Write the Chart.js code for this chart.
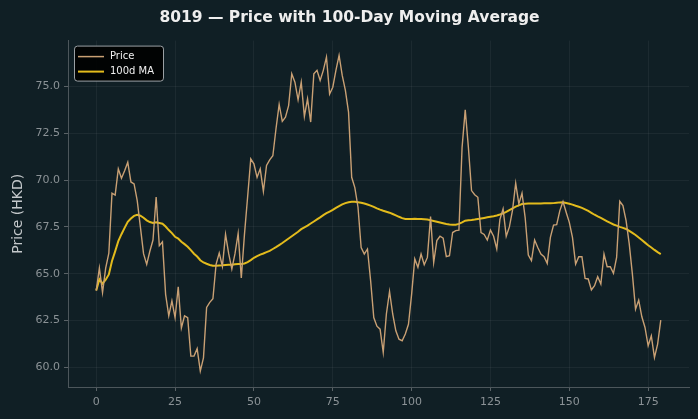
<!DOCTYPE html>
<html>
<head>
<meta charset="utf-8">
<script src="https://cdn.jsdelivr.net/npm/chart.js@4.4.1/dist/chart.umd.min.js"></script>
<style>
  html, body { margin: 0; padding: 0; background: #101f25; }
  #wrap { width: 698px; height: 419px; }
</style>
</head>
<body>
<div id="wrap"><canvas id="c" width="698" height="419"></canvas></div>
<script>
// --- data ---
const days = Array.from({ length: 180 }, (_, i) => i);

const price = [
  64.1, 65.3, 64.0, 65.3, 66.1, 69.3, 69.2, 70.6, 70.1, 70.5,
  70.95, 69.9, 69.8, 68.9, 67.5, 66.07, 65.5, 66.2, 66.8, 69.1,
  66.5, 66.7, 63.9, 62.75, 63.55, 62.65, 64.3, 62.1, 62.75, 62.65,
  60.6, 60.6, 61.0, 59.8, 60.5, 63.2, 63.47, 63.66, 65.5, 66.1,
  65.4, 67.1, 66.07, 65.25, 66.07, 67.15, 64.77, 67.1, 69.1, 71.13,
  70.87, 70.15, 70.6, 69.4, 70.78, 71.08, 71.3, 72.74, 74.04, 73.14,
  73.36, 73.98, 75.68, 75.23, 74.29, 75.23, 73.4, 74.34, 73.1, 75.68,
  75.86, 75.32, 75.86, 76.57, 74.6, 74.96, 75.86, 76.66, 75.59, 74.79,
  73.63, 70.15, 69.6, 68.55, 66.4, 66.05, 66.32, 64.63, 62.66, 62.2,
  62.04, 60.8, 62.85, 64.05, 62.85, 61.95, 61.5, 61.42, 61.78, 62.3,
  63.9, 65.79, 65.34, 66.05, 65.48, 65.87, 68.05, 65.6, 66.77, 67.0,
  66.9, 65.91, 65.96, 67.2, 67.3, 67.33, 71.75, 73.75, 71.75, 69.44,
  69.22, 69.08, 67.2, 67.1, 66.8, 67.33, 67.0, 66.32, 67.9, 68.46,
  67.0, 67.5, 68.4, 69.83, 68.73, 69.3, 68.0, 66.0, 65.7, 66.8,
  66.4, 66.05, 65.91, 65.55, 66.94, 67.6, 67.62, 68.37, 68.85, 68.28,
  67.74, 66.94, 65.52, 65.91, 65.91, 64.75, 64.72, 64.13, 64.36, 64.84,
  64.45, 66.05, 65.37, 65.37, 65.02, 65.87, 68.87, 68.64, 67.83, 66.59,
  64.98, 63.11, 63.59, 62.7, 62.13, 61.15, 61.68, 60.52, 61.24, 62.52
];

const ma100 = [
  64.10, 64.70, 64.47, 64.68, 64.96, 65.68, 66.19, 66.74, 67.11, 67.45,
  67.77, 67.95, 68.09, 68.15, 68.10, 67.99, 67.85, 67.76, 67.71, 67.75,
  67.71, 67.67, 67.52, 67.33, 67.17, 66.97, 66.88, 66.71, 66.58, 66.44,
  66.26, 66.07, 65.92, 65.72, 65.60, 65.53, 65.47, 65.43, 65.43, 65.44,
  65.45, 65.47, 65.48, 65.48, 65.50, 65.52, 65.52, 65.55, 65.62, 65.73,
  65.85, 65.94, 66.02, 66.08, 66.15, 66.22, 66.32, 66.42, 66.53, 66.64,
  66.76, 66.88, 67.00, 67.12, 67.24, 67.38, 67.48, 67.57, 67.68, 67.79,
  67.90, 68.01, 68.13, 68.23, 68.32, 68.41, 68.52, 68.61, 68.70, 68.77,
  68.82, 68.84, 68.84, 68.82, 68.79, 68.75, 68.70, 68.64, 68.57, 68.49,
  68.42, 68.36, 68.31, 68.26, 68.19, 68.12, 68.04, 67.97, 67.92, 67.92,
  67.92, 67.93, 67.92, 67.92, 67.91, 67.90, 67.86, 67.82, 67.78, 67.74,
  67.70, 67.66, 67.63, 67.62, 67.62, 67.66, 67.74, 67.83, 67.86, 67.87,
  67.89, 67.92, 67.95, 67.98, 68.01, 68.04, 68.07, 68.11, 68.16, 68.22,
  68.30, 68.40, 68.49, 68.58, 68.65, 68.72, 68.74, 68.75, 68.75, 68.75,
  68.75, 68.75, 68.76, 68.76, 68.76, 68.77, 68.79, 68.81, 68.82, 68.78,
  68.74, 68.69, 68.63, 68.58, 68.52, 68.44, 68.35, 68.25, 68.15, 68.06,
  67.98, 67.89, 67.80, 67.71, 67.63, 67.57, 67.50, 67.45, 67.39, 67.29,
  67.18, 67.07, 66.93, 66.80, 66.66, 66.52, 66.40, 66.27, 66.15, 66.05
];

const xTicks = [0, 25, 50, 75, 100, 125, 150, 175];
const yTicks = [60.0, 62.5, 65.0, 67.5, 70.0, 72.5, 75.0];

const titleText = '8019 \u2014 Price with 100-Day Moving Average';
const seriesNames = ['Price', '100d MA'];
const seriesColors = ['#c9a074', '#e3bb1c'];

// legend box drawn inside the plot, top-left (like the reference)
const insideLegend = {
    id: 'insideLegend',
    afterDraw(chart) {
        const ctx = chart.ctx;
        const a = chart.chartArea;
        const x0 = a.left + 6, y0 = a.top + 5, w = 89, h = 35;
        ctx.save();
        ctx.fillStyle = 'rgba(0,0,0,0.9)';
        ctx.strokeStyle = '#9aa0a4';
        ctx.lineWidth = 1;
        ctx.beginPath();
        ctx.roundRect(x0 + 0.5, y0 + 0.5, w, h, 3);
        ctx.fill();
        ctx.stroke();
        ctx.font = '10px "DejaVu Sans"';
        ctx.textBaseline = 'middle';
        seriesNames.forEach((name, i) => {
            const yy = y0 + 11 + i * 15;
            ctx.strokeStyle = seriesColors[i];
            ctx.lineWidth = i === 0 ? 1.5 : 2;
            ctx.beginPath();
            ctx.moveTo(x0 + 4, yy);
            ctx.lineTo(x0 + 30, yy);
            ctx.stroke();
            ctx.fillStyle = '#f0f0f0';
            ctx.fillText(name, x0 + 36, yy);
        });
        ctx.restore();
    }
};

const bgPlugin = {
    id: 'bg',
    beforeDraw(chart) {
        const ctx = chart.ctx;
        ctx.save();
        ctx.fillStyle = '#101f25';
        ctx.fillRect(0, 0, chart.width, chart.height);
        ctx.restore();
    }
};

new Chart(document.getElementById('c'), {
    type: 'line',
    data: {
        labels: days,
        datasets: [{
            label: seriesNames[0],
            data: days.map((d, i) => ({ x: d, y: price[i] })),
            borderColor: seriesColors[0],
            borderWidth: 1.4,
            pointRadius: 0,
            tension: 0
        }, {
            label: seriesNames[1],
            data: days.map((d, i) => ({ x: d, y: ma100[i] })),
            borderColor: seriesColors[1],
            borderWidth: 2,
            pointRadius: 0,
            tension: 0
        }]
    },
    plugins: [bgPlugin, insideLegend],
    options: {
        responsive: false,
        animation: false,
        devicePixelRatio: 1,
        layout: { padding: { left: 10, right: 9, top: 0, bottom: 0 } },
        plugins: {
            legend: { display: false },
            tooltip: { enabled: false },
            title: {
                display: true,
                text: titleText,
                color: '#eeeeee',
                font: { family: 'DejaVu Sans', size: 15.5, weight: 'bold' },
                padding: { top: 9, bottom: 13 }
            }
        },
        scales: {
            x: {
                type: 'linear',
                min: -8.95,
                max: 187.95,
                afterBuildTicks: s => { s.ticks = xTicks.map(v => ({ value: v })); },
                afterFit: s => { s.height = 32; },
                ticks: {
                    color: '#8b9296',
                    font: { family: 'DejaVu Sans', size: 11 },
                    padding: 5,
                    maxRotation: 0,
                    callback: v => String(v)
                },
                grid: { color: 'rgba(255,255,255,0.05)', tickColor: '#5a6266', tickLength: 4 },
                border: { color: '#4c565b' }
            },
            y: {
                min: 58.95,
                max: 77.45,
                afterBuildTicks: s => { s.ticks = yTicks.map(v => ({ value: v })); },
                afterFit: s => { s.width = 58; },
                ticks: {
                    color: '#8b9296',
                    font: { family: 'DejaVu Sans', size: 11 },
                    padding: 4,
                    callback: v => v.toFixed(1)
                },
                title: {
                    display: true,
                    text: 'Price (HKD)',
                    color: '#c4c8cb',
                    font: { family: 'DejaVu Sans', size: 14 },
                    padding: 0
                },
                grid: { color: 'rgba(255,255,255,0.05)', tickColor: '#5a6266', tickLength: 4 },
                border: { color: '#4c565b' }
            }
        }
    }
});
</script>
</body>
</html>
